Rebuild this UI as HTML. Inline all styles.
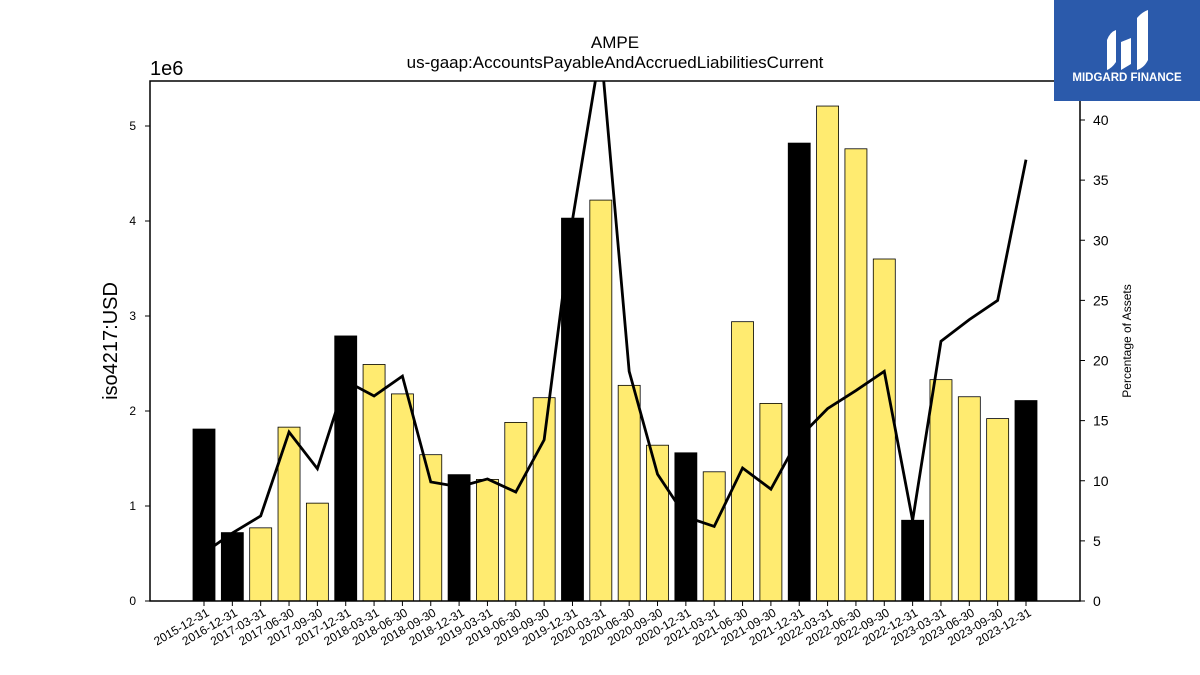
<!DOCTYPE html>
<html><head><meta charset="utf-8"><style>
body{margin:0;background:#fff;}
svg{display:block;font-family:"Liberation Sans","DejaVu Sans",sans-serif;}
</style></head><body>
<svg id="chart" width="1200" height="675" xmlns="http://www.w3.org/2000/svg">
<defs><clipPath id="plotclip"><rect x="150" y="81" width="930" height="520"/></clipPath></defs>
<text x="615" y="48" font-size="17" text-anchor="middle">AMPE</text>
<text x="615" y="68" font-size="17" text-anchor="middle">us-gaap:AccountsPayableAndAccruedLiabilitiesCurrent</text>
<text x="150" y="75" font-size="20">1e6</text>
<text transform="translate(117,341) rotate(-90)" font-size="20" text-anchor="middle">iso4217:USD</text>
<text transform="translate(1131,341) rotate(-90)" font-size="12" text-anchor="middle">Percentage of Assets</text>
<g id="bars"></g><g id="line"></g><g id="axes"></g>
<g>
<rect x="1054" y="0" width="146" height="101" fill="#2b5aab"/>
<path d="M1107 70 L1107 40 Q1110 32 1116 30 L1116 62 Q1112 68 1107 70Z M1121 70 L1121 42 L1131 38 L1131 64Z M1137 70 L1137 18 Q1142 12 1148 10 L1148 60 Q1144 68 1137 70Z" fill="#fff"/>
<text x="1127" y="81" font-size="11.5" font-weight="bold" fill="#fff" text-anchor="middle">MIDGARD FINANCE</text>
</g>
</svg>
<script>
const categories=["2015-12-31","2016-12-31","2017-03-31","2017-06-30","2017-09-30","2017-12-31","2018-03-31","2018-06-30","2018-09-30","2018-12-31","2019-03-31","2019-06-30","2019-09-30","2019-12-31","2020-03-31","2020-06-30","2020-09-30","2020-12-31","2021-03-31","2021-06-30","2021-09-30","2021-12-31","2022-03-31","2022-06-30","2022-09-30","2022-12-31","2023-03-31","2023-06-30","2023-09-30","2023-12-31"];
const values=[1.81,0.72,0.77,1.83,1.03,2.79,2.49,2.18,1.54,1.33,1.28,1.88,2.14,4.03,4.22,2.27,1.64,1.56,1.36,2.94,2.08,4.82,5.21,4.76,3.60,0.85,2.33,2.15,1.92,2.11];
const pct=[4.0,5.65,7.07,14.05,11.0,18.3,17.05,18.7,9.9,9.5,10.15,9.06,13.4,31.7,46,19.1,10.55,7.0,6.2,11.06,9.3,13.6,16.0,17.5,19.1,6.7,21.6,23.4,25.0,36.7];
const leftTicks=[0,1,2,3,4,5];
const rightTicks=[0,5,10,15,20,25,30,35,40];
const NS="http://www.w3.org/2000/svg";
const L=150,R=1080,T=81,B=601;
const x=i=>204+i*(1026-204)/(categories.length-1);
const y=v=>B-v*95;
const y2=v=>B-v*12.025;
function mk(tag,attrs,parent){const e=document.createElementNS(NS,tag);for(const k in attrs)e.setAttribute(k,attrs[k]);parent.appendChild(e);return e;}
const bars=document.getElementById('bars'),line=document.getElementById('line'),axes=document.getElementById('axes');
values.forEach((v,i)=>{
 const annual=categories[i].endsWith('12-31');
 const r=mk('rect',{x:x(i)-11,y:y(v),width:22,height:B-y(v),fill:annual?'#000':'#ffeb70',stroke:'#000','stroke-width':0.8},bars);
 
 
});
const p=mk('polyline',{points:pct.map((v,i)=>x(i)+','+y2(v)).join(' '),fill:'none',stroke:'#000','stroke-width':2.8,'clip-path':'url(#plotclip)'},line);


const fr=mk('rect',{x:L,y:T,width:R-L,height:B-T,fill:'none',stroke:'#000','stroke-width':1.5},axes);


leftTicks.forEach(t=>{
 mk('line',{x1:L-5,x2:L,y1:y(t),y2:y(t),stroke:'#000'},axes);
 const tx=mk('text',{x:L-14,y:y(t)+4,'font-size':12,'text-anchor':'end'},axes);tx.textContent=t;
 
 
});
rightTicks.forEach(t=>{
 mk('line',{x1:R,x2:R+5,y1:y2(t),y2:y2(t),stroke:'#000'},axes);
 const tx=mk('text',{x:R+13,y:y2(t)+5,'font-size':14},axes);tx.textContent=t;
 
 
});
categories.forEach((c,i)=>{
 mk('line',{x1:x(i),x2:x(i),y1:B,y2:B+5,stroke:'#000'},axes);
 const tx=mk('text',{transform:`translate(${x(i)+6},${B+14}) rotate(-30)`,'font-size':12,'text-anchor':'end'},axes);tx.textContent=c;
 
 
});
</script>
</body></html>
